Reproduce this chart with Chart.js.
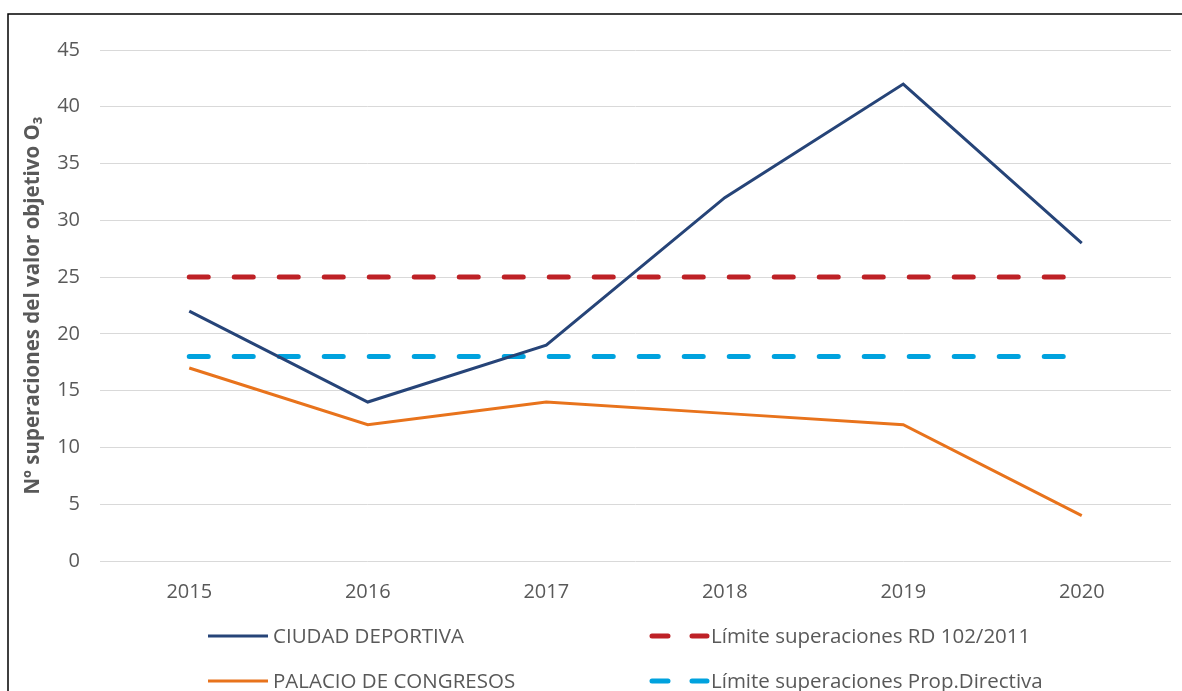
<!DOCTYPE html>
<html>
<head>
<meta charset="utf-8">
<script src="https://cdn.jsdelivr.net/npm/chart.js@4.4.1/dist/chart.umd.min.js"></script>
<style>
  html, body { margin: 0; padding: 0; background: #fff; }
  #wrap { position: relative; width: 1182px; height: 691px; }
</style>
</head>
<body>
<div id="wrap"><canvas id="o3Chart" width="1182" height="691"></canvas></div>
<script>
// --- Chart data ---
const years = ['2015', '2016', '2017', '2018', '2019', '2020'];
const ciudadDeportiva = [22, 14, 19, 32, 42, 28];
const palacioCongresos = [17, 12, 14, 13, 12, 4];
const limiteRD = [25, 25, 25, 25, 25, 25];
const limiteProp = [18, 18, 18, 18, 18, 18];
const yTicks = [0, 5, 10, 15, 20, 25, 30, 35, 40, 45];

const FONT = '"Open Sans", "Liberation Sans", sans-serif';
const GREY = '#595959';

// frame + 2x2 legend, drawn by hand because Chart.js legend can't do the grid
const framePlugin = {
    id: 'frame',
    afterDraw(chart) {
        const ctx = chart.ctx;
        ctx.save();
        ctx.strokeStyle = '#000';
        ctx.lineWidth = 1.5;
        ctx.beginPath();
        ctx.moveTo(1182, 14);
        ctx.lineTo(8, 14);
        ctx.lineTo(8, 691);
        ctx.stroke();

        const slots = [[208, 636], [650, 636], [208, 681], [650, 681]];
        const order = [0, 2, 1, 3];
        order.forEach((dsIndex, i) => {
            const ds = chart.data.datasets[dsIndex];
            const [x, y] = slots[i];
            ctx.strokeStyle = ds.borderColor;
            if (ds.borderDash) {
                ctx.lineWidth = 5;
                ctx.lineCap = 'round';
                ctx.beginPath();
                ctx.moveTo(x + 2, y); ctx.lineTo(x + 18, y);
                ctx.moveTo(x + 42, y); ctx.lineTo(x + 57, y);
                ctx.stroke();
            } else {
                ctx.lineWidth = 3;
                ctx.lineCap = 'butt';
                ctx.beginPath();
                ctx.moveTo(x, y); ctx.lineTo(x + 60, y);
                ctx.stroke();
            }
            ctx.fillStyle = GREY;
            ctx.font = '20.5px ' + FONT;
            ctx.textBaseline = 'middle';
            ctx.fillText(ds.label, x + (ds.borderDash ? 61 : 65), y + 1);
        });
        ctx.restore();
    }
};

const ctx = document.getElementById('o3Chart').getContext('2d');
new Chart(ctx, {
    type: 'line',
    data: {
        labels: years,
        datasets: [
            { label: 'CIUDAD DEPORTIVA', data: ciudadDeportiva, borderColor: '#264478', borderWidth: 3 },
            { label: 'PALACIO DE CONGRESOS', data: palacioCongresos, borderColor: '#E8731C', borderWidth: 3 },
            { label: 'Límite superaciones RD 102/2011', data: limiteRD, borderColor: '#BE2126', borderWidth: 5, borderDash: [19, 26], borderCapStyle: 'round' },
            { label: 'Límite superaciones Prop.Directiva', data: limiteProp, borderColor: '#00A2DE', borderWidth: 5, borderDash: [19, 26], borderCapStyle: 'round' }
        ]
    },
    options: {
        responsive: false,
        animation: false,
        elements: { point: { radius: 0, hoverRadius: 0 }, line: { tension: 0 } },
        layout: { padding: { left: 21, right: 11, top: 50, bottom: 85 } },
        scales: {
            x: {
                offset: true,
                grid: { display: false, drawTicks: false },
                border: { display: false },
                ticks: { color: GREY, font: { family: FONT, size: 20 }, padding: 19 },
                afterFit(scale) { scale.height = 45; }
            },
            y: {
                min: 0, max: 45,
                afterBuildTicks(scale) { scale.ticks = yTicks.map(v => ({ value: v })); },
                grid: { color: '#d9d9d9', lineWidth: 1, drawTicks: false },
                border: { display: false },
                ticks: { color: GREY, font: { family: FONT, size: 20 }, padding: 20 },
                title: {
                    display: true,
                    text: 'Nº superaciones del valor objetivo O₃',
                    color: GREY,
                    font: { family: FONT, size: 20.5, weight: 'bold' },
                    padding: { top: 0, bottom: 0 }
                },
                afterFit(scale) { scale.width = 79; }
            }
        },
        plugins: { legend: { display: false }, tooltip: { enabled: false } }
    },
    plugins: [framePlugin]
});
</script>
</body>
</html>
